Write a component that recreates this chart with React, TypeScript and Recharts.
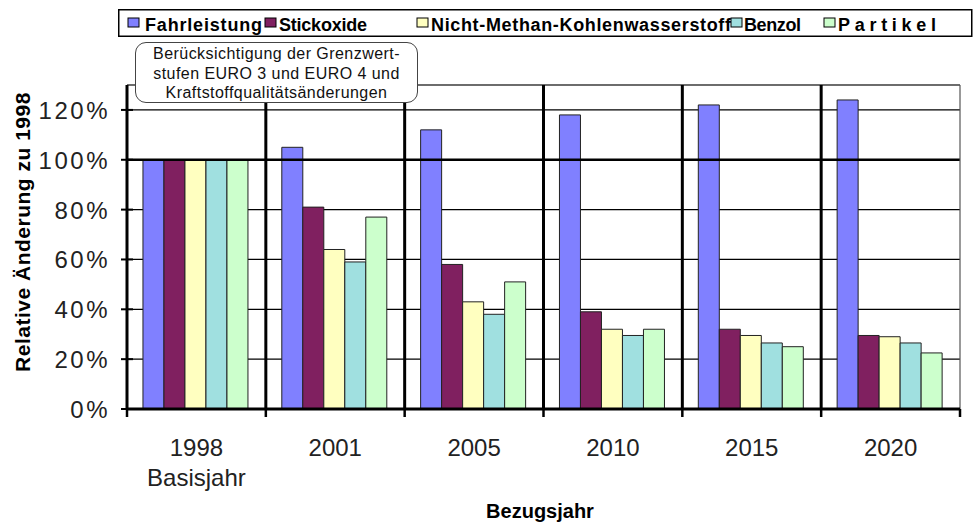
import { BarChart, Bar, XAxis, YAxis, CartesianGrid, ReferenceLine, Legend } from 'recharts'

const YEARS = ['1998', '2001', '2005', '2010', '2015', '2020']
const SUBLABELS = ['Basisjahr', '', '', '', '', '']
const FAHRLEISTUNG = [100, 105, 112, 118, 122, 124]
const STICKOXIDE = [100, 81, 58, 39, 32, 29.5]
const NMKW = [100, 64, 43, 32, 29.5, 29]
const BENZOL = [100, 59, 38, 29.5, 26.5, 26.5]
const PARTIKEL = [100, 77, 51, 32, 25, 22.5]
const Y_TICKS = [0, 20, 40, 60, 80, 100, 120]

const SERIES = [
  { key: 'fahr', name: 'Fahrleistung', color: '#8080ff', values: FAHRLEISTUNG },
  { key: 'nox', name: 'Stickoxide', color: '#802060', values: STICKOXIDE },
  { key: 'nmkw', name: 'Nicht-Methan-Kohlenwasserstoff', color: '#ffffc0', values: NMKW },
  { key: 'benzol', name: 'Benzol', color: '#a0e0e0', values: BENZOL },
  { key: 'partikel', name: 'Partikel', color: '#ccffcc', values: PARTIKEL },
]

const data = YEARS.map((year, i) => {
  const row: Record<string, string | number> = { year, mid: i + 0.5 }
  SERIES.forEach((s) => (row[s.key] = s.values[i]))
  return row
})

// Grenzen zwischen den Kategorien (0..6) und Mitten für die Beschriftung
const POS_TICKS = YEARS.flatMap((_, i) => [i, i + 0.5]).concat(YEARS.length)

const FONT = '"Liberation Sans", Arial, sans-serif'

// Legende: Position von Kästchen und Textbreite je Eintrag (relativ zur Box)
const LEGEND_LAYOUT = [
  { sw: 10, tx: 27, tw: 117 },
  { sw: 147, tx: 161, tw: 88 },
  { sw: 299, tx: 313, tw: 300 },
  { sw: 613, tx: 626, tw: 57 },
  { sw: 706, tx: 720, tw: 98 },
]

function LegendBox() {
  return (
    <svg width={856} height={29}>
      <rect x={0.75} y={0.75} width={853} height={26.5} fill="#fff" stroke="#000" strokeWidth={1.5} />
      {SERIES.map((s, i) => {
        const l = LEGEND_LAYOUT[i]
        return (
          <g key={s.key}>
            <rect x={l.sw} y={9} width={11} height={9} fill={s.color} stroke="#000" strokeWidth={1} />
            <text
              x={l.tx}
              y={22}
              textLength={l.tw}
              lengthAdjust="spacing"
              fontFamily={FONT}
              fontWeight="bold"
              fontSize={18}
              fill="#000"
            >
              {s.name}
            </text>
          </g>
        )
      })}
    </svg>
  )
}

function YTick(props: any) {
  const { x, y, payload } = props
  return (
    <g>
      <line x1={x + 19} x2={x + 25} y1={y} y2={y} stroke="#000" strokeWidth={2} />
      <text x={x + 2} y={y} dy={9} textAnchor="end" letterSpacing={2.5} fontFamily={FONT} fontSize={24} fill="#222">
        {payload.value}%
      </text>
    </g>
  )
}

function XTick(props: any) {
  const { x, y, payload } = props
  const v = payload.value as number
  if (Number.isInteger(v)) {
    return <line x1={x} x2={x} y1={y} y2={y + 8} stroke="#000" strokeWidth={2.5} />
  }
  const i = Math.floor(v)
  return (
    <g fontFamily={FONT} fontSize={24} fill="#222" textAnchor="middle">
      <text x={x} y={y + 47}>{YEARS[i]}</text>
      {SUBLABELS[i] && <text x={x} y={y + 77}>{SUBLABELS[i]}</text>}
    </g>
  )
}

export default function App() {
  return (
    <div style={{ position: 'absolute', left: 0, top: 0, width: 975, height: 524, background: '#fff' }}>
      <BarChart
        width={975}
        height={524}
        data={data}
        margin={{ top: 56, right: 15, left: 0, bottom: 55 }}
        barCategoryGap="11.5%"
        barGap={0}
      >
        <CartesianGrid vertical={false} stroke="#000" strokeWidth={1.3} />
        <XAxis
          xAxisId="pos"
          dataKey="mid"
          type="number"
          domain={[0, YEARS.length]}
          allowDataOverflow
          ticks={POS_TICKS}
          interval={0}
          tick={<XTick />}
          tickLine={false}
          tickSize={0}
          tickMargin={0}
          axisLine={{ stroke: '#000', strokeWidth: 3 }}
          height={60}
        />
        <XAxis xAxisId="cat" dataKey="year" hide height={0} />
        <YAxis
          domain={[0, 130]}
          ticks={Y_TICKS}
          interval={0}
          width={127}
          tick={<YTick />}
          tickSize={6}
          tickMargin={13}
          tickLine={{ stroke: '#000', strokeWidth: 2 }}
          axisLine={{ stroke: '#000', strokeWidth: 3 }}
        />
        <Legend
          verticalAlign="top"
          content={<LegendBox />}
          wrapperStyle={{ position: 'absolute', left: 118, top: 9, width: 856, height: 29 }}
        />
        {SERIES.map((s) => (
          <Bar
            key={s.key}
            xAxisId="cat"
            dataKey={s.key}
            name={s.name}
            fill={s.color}
            stroke="#222"
            strokeWidth={1}
            isAnimationActive={false}
          />
        ))}
        <ReferenceLine xAxisId="pos" y={130} stroke="#999" strokeWidth={1} />
        <ReferenceLine xAxisId="pos" y={100} stroke="#000" strokeWidth={2.6} />
        {YEARS.slice(1).map((_, i) => (
          <ReferenceLine key={i} xAxisId="pos" x={i + 1} stroke="#000" strokeWidth={3} />
        ))}
        <ReferenceLine xAxisId="pos" x={YEARS.length} stroke="#555" strokeWidth={1.2} />
      </BarChart>

      <div
        style={{
          position: 'absolute',
          left: 135,
          top: 42,
          width: 283,
          height: 61,
          border: '1px solid #444',
          borderRadius: 11,
          background: '#fff',
          fontFamily: FONT,
          fontSize: 16,
          letterSpacing: 0.45,
          lineHeight: '19.5px',
          textAlign: 'center',
          color: '#111',
          paddingTop: 1,
          boxSizing: 'border-box',
          whiteSpace: 'nowrap',
        }}
      >
        Berücksichtigung der Grenzwert-
        <br />
        stufen EURO 3 und EURO 4 und
        <br />
        Kraftstoffqualitätsänderungen
      </div>

      <div
        style={{
          position: 'absolute',
          left: 23,
          top: 232,
          transform: 'translate(-50%, -50%) rotate(-90deg)',
          whiteSpace: 'nowrap',
          fontFamily: FONT,
          fontWeight: 'bold',
          fontSize: 21,
          letterSpacing: 0.5,
        }}
      >
        Relative Änderung zu 1998
      </div>
      <div
        style={{
          position: 'absolute',
          left: 540,
          top: 511,
          transform: 'translate(-50%, -50%)',
          whiteSpace: 'nowrap',
          fontFamily: FONT,
          fontWeight: 'bold',
          fontSize: 20,
        }}
      >
        Bezugsjahr
      </div>
    </div>
  )
}
